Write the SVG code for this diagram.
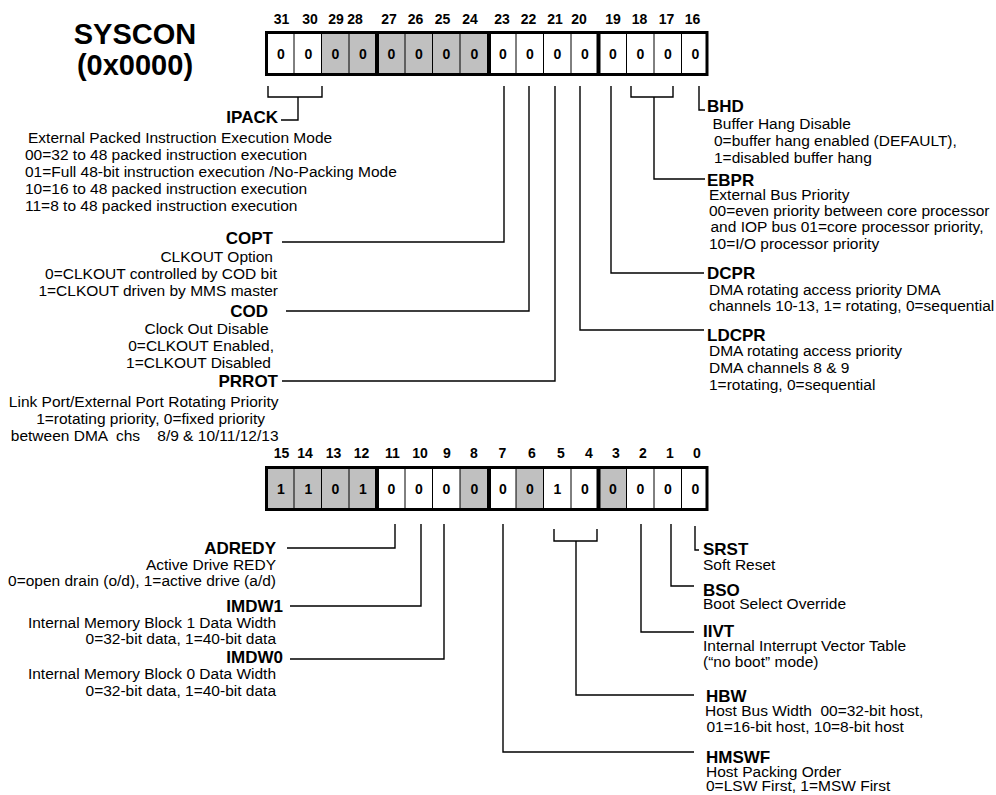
<svg xmlns="http://www.w3.org/2000/svg" width="996" height="795" viewBox="0 0 996 795">
<style>
text{font-family:"Liberation Sans",Arial,Helvetica,sans-serif;fill:#000}
.d{font-size:15.5px}
.b{font-size:17px;font-weight:bold}
.n{font-size:14px;font-weight:bold;text-anchor:middle}
.e{text-anchor:end}
.ti{font-size:29px;font-weight:bold;text-anchor:middle}
.ln{fill:none;stroke:#000;stroke-width:1.4}
.g{fill:#c0c0c0}
.w{fill:#fff}
.thin{stroke:#000;stroke-width:1}
.thick{stroke:#000;stroke-width:4}
.out{fill:none;stroke:#000;stroke-width:3}
</style>
<rect width="996" height="795" fill="#fff"/>

<g id="title">
<text class="ti" x="135" y="44">SYSCON</text>
<text class="ti" x="135" y="75">(0x0000)</text>
</g>

<g id="register-high">
<rect class="w" x="265" y="31" width="84" height="45"/>
<rect class="g" x="321.5" y="31" width="167.5" height="45"/>
<rect class="w" x="489" y="31" width="219.5" height="45"/>
<g class="thin">
<line x1="294" y1="31" x2="294" y2="76"/><line x1="321.5" y1="31" x2="321.5" y2="76"/><line x1="349" y1="31" x2="349" y2="76"/>
<line x1="405" y1="31" x2="405" y2="76"/><line x1="432.5" y1="31" x2="432.5" y2="76"/><line x1="460" y1="31" x2="460" y2="76"/>
<line x1="516" y1="31" x2="516" y2="76"/><line x1="543.5" y1="31" x2="543.5" y2="76"/><line x1="571" y1="31" x2="571" y2="76"/>
<line x1="626.5" y1="31" x2="626.5" y2="76"/><line x1="654" y1="31" x2="654" y2="76"/><line x1="681.5" y1="31" x2="681.5" y2="76"/>
</g>
<g class="thick">
<line x1="377" y1="31" x2="377" y2="76"/><line x1="489" y1="31" x2="489" y2="76"/><line x1="598.5" y1="31" x2="598.5" y2="76"/>
</g>
<rect class="out" x="266.5" y="32.5" width="440.5" height="42"/>
<g class="n">
<text x="281.5" y="24">31</text><text x="310" y="24">30</text><text x="336" y="24">29</text><text x="355" y="24">28</text>
<text x="389" y="24">27</text><text x="415.5" y="24">26</text><text x="442.5" y="24">25</text><text x="470" y="24">24</text>
<text x="502" y="24">23</text><text x="528.5" y="24">22</text><text x="555" y="24">21</text><text x="579" y="24">20</text>
<text x="613" y="24">19</text><text x="639.5" y="24">18</text><text x="666.5" y="24">17</text><text x="692.5" y="24">16</text>
</g>
<g class="n">
<text x="281" y="58.5">0</text><text x="308.5" y="58.5">0</text><text x="335.5" y="58.5">0</text><text x="363" y="58.5">0</text>
<text x="391.5" y="58.5">0</text><text x="419" y="58.5">0</text><text x="446.5" y="58.5">0</text><text x="474.5" y="58.5">0</text>
<text x="503" y="58.5">0</text><text x="530" y="58.5">0</text><text x="557.5" y="58.5">0</text><text x="585" y="58.5">0</text>
<text x="613" y="58.5">0</text><text x="640.5" y="58.5">0</text><text x="668" y="58.5">0</text><text x="695.5" y="58.5">0</text>
</g>
</g>

<g id="register-low">
<rect class="g" x="265" y="466" width="112" height="45"/>
<rect class="w" x="377" y="466" width="83" height="45"/>
<rect class="g" x="460" y="466" width="29" height="45"/>
<rect class="w" x="489" y="466" width="27" height="45"/>
<rect class="g" x="516" y="466" width="27.5" height="45"/>
<rect class="w" x="543.5" y="466" width="55" height="45"/>
<rect class="g" x="598.5" y="466" width="28" height="45"/>
<rect class="w" x="626.5" y="466" width="82" height="45"/>
<g class="thin">
<line x1="294" y1="466" x2="294" y2="511"/><line x1="321.5" y1="466" x2="321.5" y2="511"/><line x1="349" y1="466" x2="349" y2="511"/>
<line x1="405" y1="466" x2="405" y2="511"/><line x1="432.5" y1="466" x2="432.5" y2="511"/><line x1="460" y1="466" x2="460" y2="511"/>
<line x1="516" y1="466" x2="516" y2="511"/><line x1="543.5" y1="466" x2="543.5" y2="511"/><line x1="571" y1="466" x2="571" y2="511"/>
<line x1="626.5" y1="466" x2="626.5" y2="511"/><line x1="654" y1="466" x2="654" y2="511"/><line x1="681.5" y1="466" x2="681.5" y2="511"/>
</g>
<g class="thick">
<line x1="377" y1="466" x2="377" y2="511"/><line x1="489" y1="466" x2="489" y2="511"/><line x1="598.5" y1="466" x2="598.5" y2="511"/>
</g>
<rect class="out" x="266.5" y="467.5" width="440.5" height="42"/>
<g class="n">
<text x="281.5" y="458">15</text><text x="305" y="458">14</text><text x="333.5" y="458">13</text><text x="361.5" y="458">12</text>
<text x="392.5" y="458">11</text><text x="420" y="458">10</text><text x="447" y="458">9</text><text x="474" y="458">8</text>
<text x="502.5" y="458">7</text><text x="532" y="458">6</text><text x="561" y="458">5</text><text x="589" y="458">4</text>
<text x="616" y="458">3</text><text x="643" y="458">2</text><text x="670" y="458">1</text><text x="697" y="458">0</text>
</g>
<g class="n">
<text x="281" y="494">1</text><text x="308.5" y="494">1</text><text x="335.5" y="494">0</text><text x="363" y="494">1</text>
<text x="391.5" y="494">0</text><text x="419" y="494">0</text><text x="446.5" y="494">0</text><text x="474.5" y="494">0</text>
<text x="503" y="494">0</text><text x="530" y="494">0</text><text x="557.5" y="494">1</text><text x="585" y="494">0</text>
<text x="613" y="494">0</text><text x="640.5" y="494">0</text><text x="668" y="494">0</text><text x="695.5" y="494">0</text>
</g>
</g>

<g id="connectors" class="ln">
<path d="M268,86V97H322V86M298,97V120H281"/>
<path d="M504,86V242H282"/>
<path d="M529,86V311H286"/>
<path d="M555,86V381H282"/>
<path d="M580,86V330H704"/>
<path d="M611,86V273H704"/>
<path d="M631,86V97H673V86M654,97V179H705"/>
<path d="M699,86V110H705"/>
<path d="M395,524V548H287"/>
<path d="M421,524V606H290"/>
<path d="M444,524V659H290"/>
<path d="M503,524V752H694"/>
<path d="M554,529V541H597V529M576,541V695H694"/>
<path d="M641,524V632H694"/>
<path d="M671,524V586H694"/>
<path d="M695,526V550H699"/>
</g>

<g id="IPACK">
<text class="b e" x="278" y="123">IPACK</text>
<text class="d" x="28" y="143">External Packed Instruction Execution Mode</text>
<text class="d" x="25" y="160">00=32 to 48 packed instruction execution</text>
<text class="d" x="25" y="177">01=Full 48-bit instruction execution /No-Packing Mode</text>
<text class="d" x="25" y="194">10=16 to 48 packed instruction execution</text>
<text class="d" x="25" y="211">11=8 to 48 packed instruction execution</text>
</g>
<g id="COPT">
<text class="b e" x="273" y="244">COPT</text>
<text class="d e" x="273" y="262">CLKOUT Option</text>
<text class="d e" x="277" y="279">0=CLKOUT controlled by COD bit</text>
<text class="d e" x="278" y="296">1=CLKOUT driven by MMS master</text>
</g>
<g id="COD">
<text class="b e" x="268" y="317">COD</text>
<text class="d e" x="268.5" y="334">Clock Out Disable</text>
<text class="d e" x="274" y="351">0=CLKOUT Enabled,</text>
<text class="d e" x="271" y="368">1=CLKOUT Disabled</text>
</g>
<g id="PRROT">
<text class="b e" x="278" y="387">PRROT</text>
<text class="d e" x="278.5" y="406.5">Link Port/External Port Rotating Priority</text>
<text class="d e" x="265" y="423.5">1=rotating priority, 0=fixed priority</text>
<text class="d e" x="278.5" y="441" xml:space="preserve">between DMA  chs    8/9 &amp; 10/11/12/13</text>
</g>
<g id="BHD">
<text class="b" x="707" y="112">BHD</text>
<text class="d" x="712.5" y="128.5">Buffer Hang Disable</text>
<text class="d" x="714" y="146">0=buffer hang enabled (DEFAULT),</text>
<text class="d" x="714" y="163">1=disabled buffer hang</text>
</g>
<g id="EBPR">
<text class="b" x="707" y="186">EBPR</text>
<text class="d" x="709" y="199.5">External Bus Priority</text>
<text class="d" x="709" y="215.5">00=even priority between core processor</text>
<text class="d" x="710.5" y="232">and IOP bus 01=core processor priority,</text>
<text class="d" x="709" y="248.5">10=I/O processor priority</text>
</g>
<g id="DCPR">
<text class="b" x="707" y="279">DCPR</text>
<text class="d" x="709" y="294.5">DMA rotating access priority DMA</text>
<text class="d" x="709" y="311">channels 10-13, 1= rotating, 0=sequential</text>
</g>
<g id="LDCPR">
<text class="b" x="707" y="341">LDCPR</text>
<text class="d" x="709" y="356">DMA rotating access priority</text>
<text class="d" x="709" y="373">DMA channels 8 &amp; 9</text>
<text class="d" x="709" y="390">1=rotating, 0=sequential</text>
</g>
<g id="ADREDY">
<text class="b e" x="276" y="554">ADREDY</text>
<text class="d e" x="276" y="570">Active Drive REDY</text>
<text class="d e" x="276" y="585.5">0=open drain (o/d), 1=active drive (a/d)</text>
</g>
<g id="IMDW1">
<text class="b e" x="283" y="612">IMDW1</text>
<text class="d e" x="276" y="628">Internal Memory Block 1 Data Width</text>
<text class="d e" x="276" y="643.5">0=32-bit data, 1=40-bit data</text>
</g>
<g id="IMDW0">
<text class="b e" x="283" y="663">IMDW0</text>
<text class="d e" x="276" y="679">Internal Memory Block 0 Data Width</text>
<text class="d e" x="276" y="696">0=32-bit data, 1=40-bit data</text>
</g>
<g id="SRST">
<text class="b" x="703" y="554.5">SRST</text>
<text class="d" x="703" y="570">Soft Reset</text>
</g>
<g id="BSO">
<text class="b" x="703" y="595.5">BSO</text>
<text class="d" x="703" y="608.5">Boot Select Override</text>
</g>
<g id="IIVT">
<text class="b" x="703" y="636.5">IIVT</text>
<text class="d" x="703" y="650.5">Internal Interrupt Vector Table</text>
<text class="d" x="703" y="667">(“no boot” mode)</text>
</g>
<g id="HBW">
<text class="b" x="706" y="701.5">HBW</text>
<text class="d" x="705" y="715.5" xml:space="preserve">Host Bus Width  00=32-bit host,</text>
<text class="d" x="706.5" y="732">01=16-bit host, 10=8-bit host</text>
</g>
<g id="HMSWF">
<text class="b" x="706" y="762.5">HMSWF</text>
<text class="d" x="706" y="777">Host Packing Order</text>
<text class="d" x="706" y="791">0=LSW First, 1=MSW First</text>
</g>
</svg>
